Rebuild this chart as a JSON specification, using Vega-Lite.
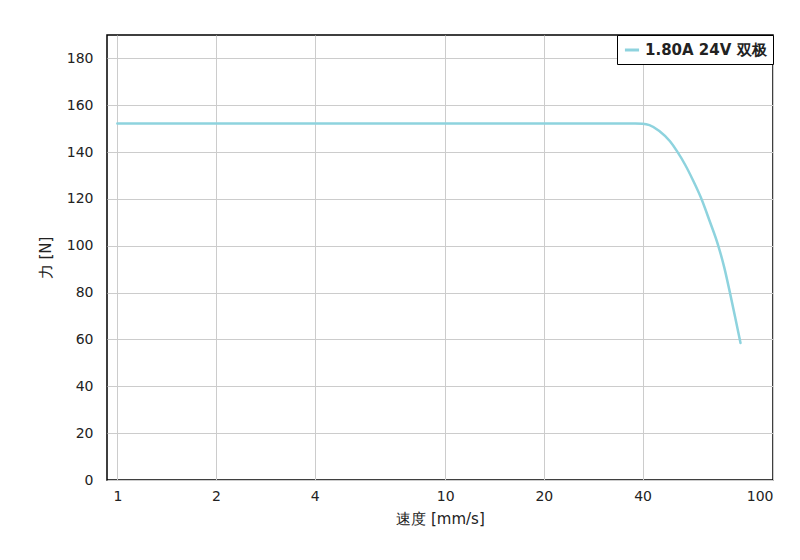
{
  "$schema": "https://vega.github.io/schema/vega-lite/v6.json",
  "width": 666,
  "height": 445,
  "autosize": "none",
  "padding": {"left": 107, "top": 35, "right": 27, "bottom": 80},
  "background": "white",
  "config": {
    "font": "DejaVu Sans",
    "view": {"stroke": "black", "strokeWidth": 1.5},
    "axis": {"labelFont": "DejaVu Sans", "titleFont": "DejaVu Sans", "labelFontSize": 14, "titleFontSize": 15, "titleFontWeight": "normal", "labelColor": "#222", "titleColor": "#222", "gridColor": "#cccccc", "gridWidth": 1, "ticks": false, "domain": false}
  },
  "data": {"values": [
    {"v": 1, "f": 152.2, "s": "1.80A 24V 双极"},
    {"v": 38, "f": 152.2, "s": "1.80A 24V 双极"},
    {"v": 40, "f": 152.1, "s": "1.80A 24V 双极"},
    {"v": 42, "f": 151.5, "s": "1.80A 24V 双极"},
    {"v": 45, "f": 149, "s": "1.80A 24V 双极"},
    {"v": 48.5, "f": 144.6, "s": "1.80A 24V 双极"},
    {"v": 51, "f": 140.3, "s": "1.80A 24V 双极"},
    {"v": 54, "f": 134.5, "s": "1.80A 24V 双极"},
    {"v": 57, "f": 128, "s": "1.80A 24V 双极"},
    {"v": 60.3, "f": 120.5, "s": "1.80A 24V 双极"},
    {"v": 64, "f": 110.8, "s": "1.80A 24V 双极"},
    {"v": 68.1, "f": 100, "s": "1.80A 24V 双极"},
    {"v": 71, "f": 90.8, "s": "1.80A 24V 双极"},
    {"v": 73.9, "f": 80, "s": "1.80A 24V 双极"},
    {"v": 76.8, "f": 69, "s": "1.80A 24V 双极"},
    {"v": 79.6, "f": 58.5, "s": "1.80A 24V 双极"}
  ]},
  "mark": {"type": "line", "strokeWidth": 2.5, "interpolate": "monotone", "strokeCap": "round"},
  "encoding": {
    "x": {"field": "v", "type": "quantitative", "scale": {"type": "log", "domain": [0.93, 100], "nice": false},
      "axis": {"values": [1, 2, 4, 10, 20, 40, 100], "format": "d", "title": "速度 [mm/s]", "labelPadding": 9, "titlePadding": 8}},
    "y": {"field": "f", "type": "quantitative", "scale": {"domain": [0, 190], "nice": false},
      "axis": {"values": [0, 20, 40, 60, 80, 100, 120, 140, 160, 180], "title": "力 [N]", "labelPadding": 14, "titlePadding": 13}},
    "color": {"field": "s", "type": "nominal", "scale": {"range": ["#8ed3de"]},
      "legend": {"title": null, "orient": "top-right", "offset": 0, "strokeColor": "black", "fillColor": "white", "padding": 6, "cornerRadius": 0, "labelFontSize": 15, "labelFontWeight": "bold", "labelColor": "#222", "symbolType": "stroke", "symbolStrokeWidth": 3, "symbolSize": 200}}
  }
}
